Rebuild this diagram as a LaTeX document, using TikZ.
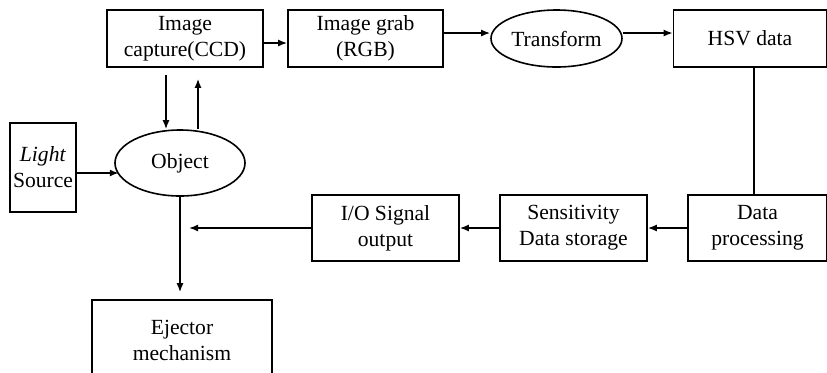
\documentclass[tikz,border=0pt]{standalone}
\usepackage{fontspec}
\setmainfont{Liberation Serif}
\usetikzlibrary{arrows.meta,positioning,calc,shapes.geometric}

\begin{document}
\begin{tikzpicture}[x=0.5pt, y=-0.5pt,
  box/.style={draw, line width=0.8pt, inner sep=1pt, align=center,
              font=\fontsize{10.8}{13}\selectfont},
  oval/.style={ellipse, draw, line width=0.8pt, inner sep=0pt,
               font=\fontsize{10.8}{13}\selectfont},
  arr/.style={-{Latex[length=4.5pt,width=3.5pt]}, line width=0.8pt}]
\clip (0,0) rectangle (827,372);
% top row
\node[box, minimum width=78pt, minimum height=28.5pt] (cap) at (185,38.5) {Image\\capture(CCD)};
\node[box, minimum width=77.5pt, minimum height=28.5pt] (grab) at (365.5,38.5) {Image grab\\(RGB)};
\node[oval, minimum width=65.5pt, minimum height=28.5pt] (trans) at (556.5,38.5) {Transform};
\node[box, minimum width=76.5pt, minimum height=28.5pt] (hsv) at (750,38.5) {HSV data};
% object and light
\node[box, minimum width=33pt, minimum height=44.5pt, inner sep=0.5pt] (light) at (43,167.5) {\textit{Light}\\Source};
\node[oval, minimum width=65pt, minimum height=33pt] (obj) at (180,163) {Object};
% bottom row
\node[box, minimum width=73.5pt, minimum height=33pt] (io) at (385.5,228) {I/O Signal\\output};
\node[box, minimum width=73.5pt, minimum height=33pt] (sens) at (573.5,228) {Sensitivity\\Data storage};
\node[box, minimum width=69.5pt, minimum height=33pt] (proc) at (757.5,228) {Data\\processing};
\node[box, minimum width=90pt, minimum height=40pt] (ejt) at (182,340) {Ejector\\mechanism};

\draw[arr] ([yshift=-2.25pt]cap.east) -- ([yshift=-2.25pt]grab.west);
\draw[arr] ([yshift=2.75pt]grab.east) -- ([yshift=2.75pt]trans.west);
\draw[arr] ([yshift=2.75pt]trans.east) -- ([yshift=2.75pt]hsv.west);
\draw[line width=0.8pt] ([xshift=2pt]hsv.south) -- ([xshift=2pt]hsv.south |- proc.north);
\draw[arr] (proc) -- (sens);
\draw[arr] (sens) -- (io);
\draw[arr, shorten >=4.5pt] (io.west) -- (io.west -| obj.south);
\draw[arr, shorten <=3.5pt] ([xshift=-9.5pt]cap.south) -- ([xshift=-9.5pt]cap.south |- obj.north);
\draw[arr, shorten >=5.5pt] ([xshift=6.5pt]cap.south |- obj.north) -- ([xshift=6.5pt]cap.south);
\draw[arr] ([yshift=-2.75pt]light.east) -- ++(42,0);
\draw[arr, shorten >=3.5pt] (obj.south) -- (obj.south |- ejt.north);
\end{tikzpicture}
\end{document}
